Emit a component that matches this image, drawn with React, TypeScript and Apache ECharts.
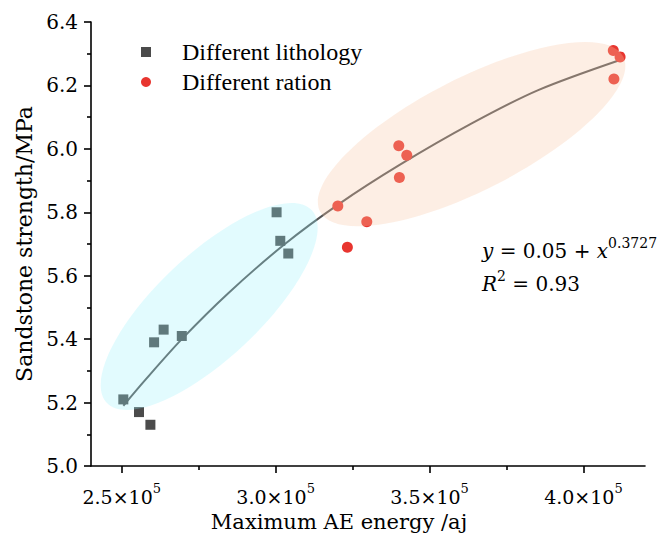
import React, { useEffect, useRef } from "react";
import * as echarts from "echarts";

// ---- data ----
const lithologyX = [250500, 255600, 259300, 260500, 263600, 269500, 300300, 301500, 304100];
const lithologyY = [5.21, 5.17, 5.13, 5.39, 5.43, 5.41, 5.8, 5.71, 5.67];
const rationX = [409700, 411900, 409900, 340000, 342600, 340200, 320200, 329600, 323300];
const rationY = [6.31, 6.29, 6.22, 6.01, 5.98, 5.91, 5.82, 5.77, 5.69];
// fitted curve, points
const fitX = [250500, 257500, 269500, 284600, 303000, 320400, 340400, 363700, 385300, 411900];
const fitY = [5.19, 5.27, 5.4, 5.545, 5.7, 5.825, 5.95, 6.08, 6.185, 6.28];
const xTickValues = [250000, 300000, 350000, 400000];
const xMinorTickValues = [275000, 325000, 375000];
const seriesNames = ["Different lithology", "Different ration"];
const equationLine1 = ["y", " = 0.05 + ", "x", "0.3727"];
const equationLine2 = ["R", "2", " = 0.93"];
// ellipse annotations: major-axis tips in data units
const cyanTips = [[245100, 5.199], [311700, 5.807]];
const peachTips = [[314400, 5.802], [412940, 6.291]];

const LEGEND_FONT = "Liberation Serif";
const FONT = "DejaVu Serif";

const zip = (xs: number[], ys: number[]) => xs.map((x, i) => [x, ys[i]]);

export default function App() {
  const ref = useRef<HTMLDivElement>(null);
  useEffect(() => {
    if (!ref.current) return;
    const chart = echarts.init(ref.current, null, { renderer: "svg" });
    const axisLineStyle = { color: "#000", width: 1.6 };
    chart.setOption({
      animation: false,
      backgroundColor: "#fff",
      grid: { left: 91, top: 22, width: 554, height: 444, outerBoundsMode: "none" },
      legend: {
        orient: "vertical",
        left: 141,
        top: 37,
        padding: 0,
        itemGap: 0,
        itemWidth: 10,
        itemHeight: 10,
        data: seriesNames,
        textStyle: {
          fontFamily: LEGEND_FONT,
          fontSize: 24,
          color: "#000",
          lineHeight: 30,
          padding: [0, 0, 0, 26],
        },
      },
      xAxis: [
        {
          type: "value",
          min: 240000,
          max: 420000,
          name: "Maximum AE energy /aj",
          nameLocation: "middle",
          nameGap: 43,
          nameTextStyle: {
            fontFamily: FONT,
            fontSize: 21,
            color: "#000",
            padding: [0, 58, 0, 0],
          },
          axisLine: { lineStyle: axisLineStyle },
          axisTick: { customValues: xTickValues, length: 7, lineStyle: axisLineStyle },
          axisLabel: {
            customValues: xTickValues,
            margin: 16,
            fontFamily: FONT,
            formatter: (v: number) => `{b|${(v / 1e5).toFixed(1)}×10}{s|5}`,
            rich: {
              b: { fontFamily: FONT, fontSize: 19, color: "#000", lineHeight: 30 },
              s: { fontFamily: FONT, fontSize: 13, color: "#000", verticalAlign: "top" },
            },
          },
          splitLine: { show: false },
        },
        {
          type: "value",
          min: 240000,
          max: 420000,
          position: "bottom",
          axisLine: { show: false },
          axisTick: { customValues: xMinorTickValues, length: 4, lineStyle: axisLineStyle },
          axisLabel: { show: false },
          splitLine: { show: false },
        },
      ],
      yAxis: {
        type: "value",
        min: 5.0,
        max: 6.4,
        interval: 0.2,
        name: "Sandstone strength/MPa",
        nameLocation: "middle",
        nameGap: 50,
        nameTextStyle: { fontFamily: FONT, fontSize: 22, color: "#000" },
        axisLine: { show: true, lineStyle: axisLineStyle },
        axisTick: { show: true, length: 7, lineStyle: axisLineStyle },
        minorTick: { show: true, splitNumber: 2, length: 4, lineStyle: axisLineStyle },
        axisLabel: {
          margin: 13,
          fontFamily: FONT,
          fontSize: 20,
          color: "#000",
          formatter: (v: number) => v.toFixed(1),
        },
        splitLine: { show: false },
        minorSplitLine: { show: false },
      },
      series: [
        {
          name: "fit",
          type: "line",
          data: zip(fitX, fitY),
          smooth: 0.3,
          showSymbol: false,
          symbol: "none",
          lineStyle: { color: "#555", width: 2 },
          z: 1,
        },
        {
          name: seriesNames[0],
          type: "scatter",
          symbol: "rect",
          symbolSize: 10,
          data: zip(lithologyX, lithologyY),
          itemStyle: { color: "#4b4b4b", opacity: 1 },
          z: 2,
        },
        {
          name: seriesNames[1],
          type: "scatter",
          symbol: "circle",
          symbolSize: 11,
          data: zip(rationX, rationY),
          itemStyle: { color: "#e8352f", opacity: 1 },
          z: 2,
        },
      ],
    });

    const ellipse = (tips: number[][], halfWidth: number, fill: string) => {
      const a = chart.convertToPixel({ xAxisIndex: 0, yAxisIndex: 0 }, tips[0]) as number[];
      const b = chart.convertToPixel({ xAxisIndex: 0, yAxisIndex: 0 }, tips[1]) as number[];
      const dx = b[0] - a[0];
      const dy = b[1] - a[1];
      return {
        type: "ellipse",
        x: (a[0] + b[0]) / 2,
        y: (a[1] + b[1]) / 2,
        rotation: Math.atan2(-dy, dx),
        shape: { cx: 0, cy: 0, rx: Math.sqrt(dx * dx + dy * dy) / 2, ry: halfWidth },
        style: { fill },
        z: 100,
        silent: true,
      };
    };

    const n = { fontFamily: FONT, fontSize: 20, fill: "#000", lineHeight: 30 };
    const it = { ...n, fontStyle: "italic" };
    const sup = { fontFamily: FONT, fontSize: 14, fill: "#000", verticalAlign: "top" };
    const rich = { n, i: it, s: sup };

    chart.setOption({
      graphic: [
        ellipse(cyanTips, 52, "rgba(150, 240, 250, 0.28)"),
        ellipse(peachTips, 56, "rgba(250, 200, 165, 0.3)"),
        {
          type: "text",
          x: 482,
          y: 236,
          z: 110,
          style: {
            text: `{i|${equationLine1[0]}}{n|${equationLine1[1]}}{i|${equationLine1[2]}}{s|${equationLine1[3]}}`,
            rich,
            fontFamily: FONT,
            fontSize: 20,
            verticalAlign: "top",
            align: "left",
          },
        },
        {
          type: "text",
          x: 482,
          y: 269,
          z: 110,
          style: {
            text: `{i|${equationLine2[0]}}{s|${equationLine2[1]}}{n|${equationLine2[2]}}`,
            rich,
            fontFamily: FONT,
            fontSize: 20,
            verticalAlign: "top",
            align: "left",
          },
        },
      ],
    });

    return () => chart.dispose();
  }, []);
  return (
    <div
      ref={ref}
      style={{ position: "fixed", left: 0, top: 0, width: 665, height: 538, background: "#fff" }}
    />
  );
}
